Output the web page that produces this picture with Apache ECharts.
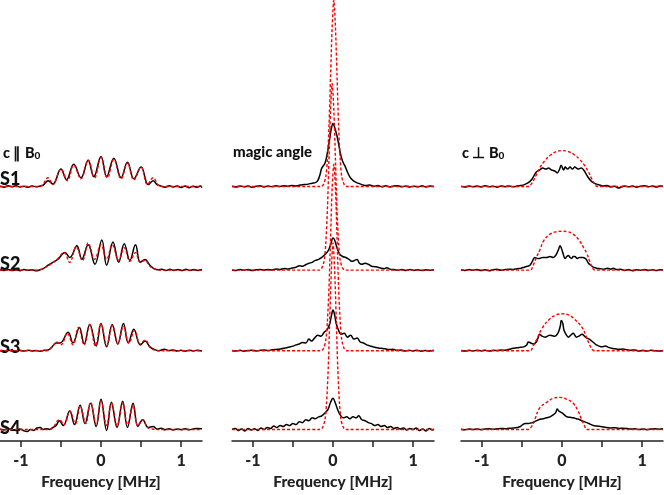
<!DOCTYPE html>
<html><head><meta charset="utf-8">
<script src="https://cdn.jsdelivr.net/npm/echarts@6/dist/echarts.min.js"></script>
<style>html,body{margin:0;padding:0;background:#fff}#c{width:664px;height:495px}</style>
</head><body><div id="c"></div>
<script>
// ---- tick marks / labels ----
const xTicks = [-1, -0.5, 0, 0.5, 1];
const xLabels = [-1, 0, 1];
const sampleNames = ['S1', 'S2', 'S3', 'S4'];
// vertical offset (stacking) of each sample's baseline, in intensity units
const baselineOffsets = [262, 176, 93, 12];

// ---- Panel 1: c || B0 ----  [frequency MHz, intensity]
const p1s1Exp = [[-1.26,0.3],[-1.21,-0.6],[-1.16,0.7],[-1.11,-0.2],[-1.06,0.8],[-1.01,-0.5],[-0.96,0.4],[-0.91,-0.7],[-0.86,0.6],[-0.81,-0.3],[-0.76,0.5],[-0.72,1.5],[-0.66,6],[-0.6,2.5],[-0.5,18],[-0.43,7],[-0.34,23],[-0.25,9],[-0.16,27],[-0.09,10],[0,31],[0.07,10],[0.16,29],[0.25,9],[0.33,25],[0.41,8],[0.5,20],[0.59,2],[0.65,6],[0.7,2],[0.75,0.4],[0.8,-0.6],[0.85,0.7],[0.9,-0.4],[0.95,0.5],[1.0,-0.9],[1.05,0.6],[1.1,-1.2],[1.15,0.4],[1.2,-0.8],[1.24,0.5],[1.26,-1]];
const p1s1Sim = [[-1.26,0],[-0.8,0],[-0.74,1],[-0.66,9],[-0.6,2],[-0.5,18],[-0.42,6],[-0.34,22],[-0.25,8],[-0.16,27],[-0.08,9],[0,30],[0.08,9],[0.16,28],[0.25,8],[0.33,24],[0.41,7],[0.5,20],[0.58,2],[0.65,9],[0.72,1],[0.78,0],[1.26,0]];
const p1s2Exp = [[-1.26,0.4],[-1.21,-0.3],[-1.16,0.6],[-1.11,-0.5],[-1.06,0.3],[-1.01,-0.6],[-0.96,0.5],[-0.91,-0.2],[-0.86,0.4],[-0.81,-0.7],[-0.76,0.3],[-0.72,1.5],[-0.66,5],[-0.6,8],[-0.54,11],[-0.45,18],[-0.39,13],[-0.3,25],[-0.24,11],[-0.16,26],[-0.075,6],[0.01,31],[0.07,5],[0.15,29],[0.22,8],[0.29,27],[0.36,10],[0.43,26],[0.49,8],[0.55,11],[0.61,5],[0.66,1.5],[0.71,0.3],[0.76,1],[0.81,-0.4],[0.86,0.8],[0.91,-0.3],[0.96,0.6],[1.01,-0.5],[1.06,1],[1.11,-0.4],[1.16,0.5],[1.21,-0.3],[1.26,0.6]];
const p1s2Sim = [[-1.26,0],[-0.8,0],[-0.72,1.5],[-0.63,6],[-0.55,11],[-0.46,18],[-0.39,8],[-0.31,24],[-0.23,10],[-0.16,28],[-0.08,11],[0,26],[0.07,11],[0.14,26],[0.22,10],[0.29,23],[0.36,9],[0.43,18],[0.49,8],[0.55,10],[0.61,4],[0.68,1],[0.75,0],[1.26,0]];
const p1s3Exp = [[-1.26,0.3],[-1.21,-0.4],[-1.16,0.5],[-1.11,0],[-1.06,-0.6],[-1.01,0.4],[-0.96,-0.3],[-0.91,0.6],[-0.86,-0.2],[-0.81,0.3],[-0.76,-0.5],[-0.71,0.4],[-0.66,0.8],[-0.61,4],[-0.56,8],[-0.51,8],[-0.41,19],[-0.35,8],[-0.27,24],[-0.21,7],[-0.14,27],[-0.06,5],[0,28],[0.07,4],[0.14,27],[0.21,7],[0.28,28],[0.34,8],[0.41,22],[0.49,6],[0.55,10],[0.61,4],[0.66,1.5],[0.72,0],[0.79,1.5],[0.85,0.2],[0.9,0.7],[0.95,-0.3],[1.0,0.5],[1.05,-0.4],[1.1,0.6],[1.15,-0.2],[1.2,0.4],[1.26,-0.3]];
const p1s3Sim = [[-1.26,0],[-0.7,0],[-0.64,1.5],[-0.59,6],[-0.55,9],[-0.5,6],[-0.42,18],[-0.35,6],[-0.28,24],[-0.21,6],[-0.14,27],[-0.07,5],[0,28],[0.07,5],[0.14,26],[0.21,7],[0.28,25],[0.35,8],[0.42,21],[0.49,7],[0.55,11],[0.62,3],[0.68,0.5],[0.74,0],[1.26,0]];
const p1s4Exp = [[-1.26,0.5],[-1.21,-0.5],[-1.16,0.8],[-1.11,0],[-1.06,-1],[-1.01,0.5],[-0.96,-1.5],[-0.92,-2],[-0.88,0],[-0.84,-1],[-0.8,1.5],[-0.76,2],[-0.72,0],[-0.68,0.8],[-0.64,0],[-0.6,2],[-0.56,4],[-0.52,9],[-0.47,4],[-0.39,19],[-0.33,5],[-0.26,25],[-0.2,6],[-0.13,27],[-0.06,3],[0,31],[0.07,-1],[0.13,28],[0.2,2],[0.27,29],[0.33,2],[0.4,27],[0.46,3],[0.52,10],[0.59,2],[0.65,3],[0.7,0.5],[0.75,1.2],[0.8,-0.3],[0.85,0.6],[0.9,-0.5],[0.95,0.4],[1.0,-0.2],[1.05,0.7],[1.1,-0.4],[1.15,0.5],[1.2,1],[1.26,0.6]];
const p1s4Sim = [[-1.26,0],[-0.66,0],[-0.6,2],[-0.52,10],[-0.46,5],[-0.39,19],[-0.32,6],[-0.26,24],[-0.19,6],[-0.13,28],[-0.06,5],[0,29],[0.07,4],[0.13,27],[0.2,4],[0.27,27],[0.33,5],[0.4,24],[0.46,4],[0.52,10],[0.58,2],[0.64,0.5],[0.7,0],[1.26,0]];

// ---- Panel 2: magic angle ----
const p2s1Exp = [[-1.26,0.3],[-1.21,-0.5],[-1.16,0.6],[-1.11,-0.3],[-1.06,0.5],[-1.01,-0.7],[-0.96,0.2],[-0.91,0.8],[-0.86,-0.4],[-0.81,0.5],[-0.76,-0.2],[-0.71,0.7],[-0.66,0.1],[-0.61,0.9],[-0.56,0.3],[-0.51,1.2],[-0.46,0.6],[-0.41,1.5],[-0.36,2],[-0.31,2.5],[-0.26,3.5],[-0.22,4],[-0.19,6],[-0.16,13],[-0.14,19],[-0.1,24],[-0.07,35],[-0.04,50],[-0.02,60],[0,65],[0.02,61],[0.05,52],[0.07,44],[0.09,35],[0.12,26],[0.15,21],[0.18,15],[0.21,10],[0.24,7],[0.27,5],[0.31,3.5],[0.36,2],[0.41,1],[0.46,1.5],[0.51,0.4],[0.56,1],[0.61,-0.3],[0.66,0.8],[0.71,-0.4],[0.76,0.5],[0.81,0.9],[0.86,-0.2],[0.91,0.6],[0.96,-0.5],[1.01,0.4],[1.06,-0.3],[1.11,0.7],[1.16,-0.4],[1.21,0.5],[1.26,0]];
const p2s1Sim = [[-1.26,0],[-0.15,0],[-0.12,2],[-0.09,10],[-0.07,28],[-0.05,62],[-0.03,115],[-0.01,165],[0.01,192],[0.03,165],[0.05,115],[0.07,62],[0.09,28],[0.11,10],[0.14,2],[0.17,0],[1.26,0]];
const p2s2Exp = [[-1.26,0.2],[-1.21,-0.4],[-1.16,0.5],[-1.11,-0.2],[-1.06,0.6],[-1.01,-0.5],[-0.96,0.3],[-0.91,0.7],[-0.86,0],[-0.81,0.6],[-0.76,0.2],[-0.71,1.1],[-0.66,0.6],[-0.61,1.6],[-0.56,1.2],[-0.51,2.2],[-0.46,3],[-0.42,4.5],[-0.38,4],[-0.34,5.5],[-0.3,7],[-0.26,8],[-0.22,10],[-0.18,11],[-0.14,13],[-0.1,16],[-0.06,20],[-0.03,26],[0,33],[0.02,31],[0.05,23],[0.08,17],[0.12,14],[0.16,13],[0.2,11],[0.24,9],[0.27,10],[0.3,11],[0.33,7],[0.36,6],[0.4,7],[0.44,6],[0.48,4],[0.52,3.5],[0.56,3],[0.6,2],[0.64,1.5],[0.67,2.5],[0.71,1],[0.76,0.5],[0.81,-0.2],[0.86,0.6],[0.91,-0.4],[0.96,0.5],[1.01,-0.3],[1.06,0.4],[1.11,-0.5],[1.16,0.3],[1.21,-0.2],[1.26,0.4]];
const p2s2Sim = [[-1.26,0],[-0.17,0],[-0.14,2],[-0.11,10],[-0.09,28],[-0.07,62],[-0.05,115],[-0.03,165],[-0.01,192],[0.01,165],[0.03,115],[0.05,62],[0.07,28],[0.09,10],[0.12,2],[0.15,0],[1.26,0]];
const p2s3Exp = [[-1.26,0.3],[-1.21,-0.3],[-1.16,0.5],[-1.11,-0.4],[-1.06,0.2],[-1.01,0.6],[-0.96,-0.2],[-0.91,0.4],[-0.86,0.8],[-0.81,0.3],[-0.76,1],[-0.71,1.4],[-0.66,1.8],[-0.61,2.5],[-0.56,3.5],[-0.51,4.5],[-0.46,6],[-0.42,7],[-0.38,8.5],[-0.34,8],[-0.3,12],[-0.27,10],[-0.23,13],[-0.19,16],[-0.15,15],[-0.11,19],[-0.07,22],[-0.04,28],[-0.02,36],[0,42],[0.02,37],[0.04,28],[0.07,21],[0.1,17],[0.14,18],[0.18,14],[0.22,16],[0.26,12],[0.3,13],[0.34,9],[0.38,8],[0.42,6],[0.46,5],[0.5,4],[0.55,3],[0.6,2.5],[0.65,2],[0.7,1.2],[0.75,1.5],[0.8,0.4],[0.85,0.8],[0.9,-0.3],[0.95,0.5],[1.0,-0.2],[1.05,0.6],[1.1,-0.4],[1.15,0.3],[1.2,-0.3],[1.26,0.4]];
const p2s3Sim = [[-1.26,0],[-0.15,0],[-0.12,2],[-0.09,11],[-0.07,30],[-0.05,65],[-0.03,118],[-0.01,168],[0.01,192],[0.03,168],[0.05,118],[0.07,65],[0.09,30],[0.11,11],[0.14,2],[0.17,0],[1.26,0]];
const p2s4Exp = [[-1.26,0],[-1.22,1],[-1.18,-1],[-1.14,0.5],[-1.1,-1.5],[-1.06,1],[-1.02,-0.5],[-0.98,0.8],[-0.94,-1],[-0.9,1.5],[-0.86,0],[-0.82,2],[-0.78,1],[-0.74,3.5],[-0.7,2],[-0.66,4],[-0.62,3],[-0.58,5],[-0.54,4],[-0.5,6],[-0.46,5],[-0.42,8],[-0.38,7],[-0.34,10],[-0.3,9],[-0.26,12],[-0.22,11],[-0.18,13],[-0.14,14],[-0.1,17],[-0.06,21],[-0.03,28],[0,32],[0.03,27],[0.06,20],[0.09,15],[0.13,12],[0.17,13],[0.21,11],[0.25,13],[0.29,12],[0.32,14],[0.36,10],[0.4,9],[0.44,7],[0.48,6],[0.52,4],[0.56,5],[0.6,3],[0.64,4],[0.68,2],[0.72,3],[0.76,1],[0.8,2],[0.84,0.5],[0.88,1.5],[0.92,-0.5],[0.96,1],[1,0],[1.04,1.5],[1.08,-1],[1.12,0.5],[1.16,-1.5],[1.2,1],[1.24,-0.5],[1.26,0.5]];
const p2s4Sim = [[-1.26,0],[-0.16,0],[-0.13,2],[-0.1,10],[-0.08,28],[-0.06,62],[-0.04,115],[-0.02,165],[0,192],[0.02,165],[0.04,115],[0.06,62],[0.08,28],[0.1,10],[0.13,2],[0.16,0],[1.26,0]];

// ---- Panel 3: c ⊥ B0 ----
const p3s1Exp = [[-1.26,0.2],[-1.21,-0.5],[-1.16,0.6],[-1.11,-0.3],[-1.06,0.5],[-1.01,-0.4],[-0.96,0.7],[-0.91,-0.2],[-0.86,0.4],[-0.81,-0.6],[-0.76,0.5],[-0.71,-0.1],[-0.66,0.6],[-0.61,-0.3],[-0.56,0.5],[-0.52,1],[-0.47,2],[-0.42,4],[-0.38,7],[-0.35,11],[-0.32,15],[-0.28,17],[-0.24,19],[-0.2,18],[-0.17,19],[-0.13,17],[-0.09,16],[-0.06,14],[-0.03,18],[-0.01,22],[0.02,17],[0.04,20],[0.07,18],[0.1,20],[0.13,18],[0.16,20],[0.2,18],[0.24,19],[0.27,17],[0.3,13],[0.33,9],[0.36,6],[0.39,4],[0.43,2.5],[0.47,1.5],[0.51,0.5],[0.56,1],[0.61,-0.4],[0.66,0.3],[0.7,-1.5],[0.74,-0.5],[0.78,0.6],[0.83,-0.3],[0.88,0.5],[0.93,-0.6],[0.98,0.4],[1.03,0.8],[1.08,-0.2],[1.13,0.6],[1.18,-0.4],[1.22,0.5],[1.26,0.2]];
const p3s1Sim = [[-1.26,0],[-0.42,0],[-0.38,3],[-0.35,7],[-0.32,12],[-0.28,19],[-0.22,26],[-0.15,32],[-0.07,36],[0,37],[0.08,36],[0.15,33],[0.22,28],[0.28,22],[0.33,15],[0.37,8],[0.41,2],[0.44,0],[1.26,0]];
const p3s2Exp = [[-1.26,0.3],[-1.21,-0.4],[-1.16,0.5],[-1.11,-0.2],[-1.06,0.6],[-1.01,-0.5],[-0.96,0.3],[-0.91,-0.6],[-0.86,0.4],[-0.81,0.8],[-0.76,-0.2],[-0.71,0.5],[-0.66,1],[-0.61,0.6],[-0.56,1.5],[-0.51,2],[-0.47,3],[-0.43,4],[-0.4,5],[-0.37,9],[-0.34,13],[-0.31,12],[-0.28,12],[-0.24,13],[-0.19,13],[-0.15,14],[-0.11,13],[-0.08,15],[-0.06,18],[-0.04,22],[-0.025,25],[-0.01,23],[0.01,18],[0.04,12],[0.06,14],[0.08,15],[0.1,13],[0.12,12],[0.14,14],[0.16,14],[0.19,12],[0.22,13],[0.26,13],[0.29,12],[0.31,10],[0.33,7],[0.36,5],[0.39,3],[0.43,2],[0.48,1.5],[0.52,1],[0.57,1.8],[0.61,1],[0.64,2],[0.68,0.5],[0.73,1],[0.78,-0.3],[0.83,0.5],[0.88,-0.6],[0.93,0.4],[0.98,-0.2],[1.03,0.6],[1.08,-0.4],[1.13,0.3],[1.18,-0.5],[1.22,0.4],[1.26,0]];
const p3s2Sim = [[-1.26,0],[-0.4,0],[-0.36,5],[-0.32,13],[-0.27,22],[-0.23,30],[-0.15,37],[-0.07,39.5],[0,40],[0.07,39.5],[0.14,37],[0.22,30],[0.27,23],[0.31,17],[0.35,8],[0.39,1],[0.42,0],[1.26,0]];
const p3s3Exp = [[-1.26,0.2],[-1.21,-0.3],[-1.16,0.4],[-1.11,-0.2],[-1.06,0.5],[-1.01,0],[-0.96,0.6],[-0.91,-0.3],[-0.86,0.4],[-0.81,0.2],[-0.76,0.7],[-0.71,0.5],[-0.66,1.5],[-0.61,2.5],[-0.56,3],[-0.52,3.5],[-0.48,4],[-0.44,6],[-0.42,9],[-0.39,8],[-0.36,7],[-0.32,9],[-0.3,13],[-0.28,17],[-0.25,15],[-0.21,14],[-0.18,15],[-0.15,16],[-0.12,15.5],[-0.09,15],[-0.06,17],[-0.04,20],[-0.02,26],[-0.01,31],[0.01,28],[0.025,21],[0.05,17],[0.08,14],[0.11,16],[0.14,18],[0.16,16],[0.18,14],[0.21,15],[0.25,17],[0.28,15],[0.31,13],[0.34,12],[0.37,10],[0.4,8],[0.43,6],[0.47,4.5],[0.5,4],[0.54,5],[0.58,3.5],[0.62,2.5],[0.66,2],[0.71,1.5],[0.76,1.8],[0.81,1],[0.86,0.5],[0.91,0.8],[0.96,-0.2],[1.01,0.4],[1.06,-0.3],[1.11,0.5],[1.16,0],[1.21,-0.3],[1.26,0.3]];
const p3s3Sim = [[-1.26,0],[-0.4,0],[-0.36,5],[-0.32,11],[-0.25,23],[-0.15,33],[-0.07,37],[0,38],[0.08,37],[0.15,33],[0.25,24],[0.3,15],[0.34,7],[0.38,1],[0.41,0],[1.26,0]];
const p3s4Exp = [[-1.26,0.3],[-1.21,-0.3],[-1.16,0.5],[-1.11,0],[-1.06,0.4],[-1.01,-0.2],[-0.96,0.5],[-0.91,0.8],[-0.86,0.2],[-0.81,0.6],[-0.76,1],[-0.71,0.7],[-0.66,1.2],[-0.61,1.5],[-0.56,2],[-0.52,3],[-0.49,5],[-0.46,6],[-0.43,6],[-0.4,6.5],[-0.37,7],[-0.33,8.5],[-0.29,10],[-0.24,11],[-0.19,12],[-0.15,13],[-0.11,15],[-0.08,17],[-0.06,21],[-0.04,19],[-0.02,18],[0,17],[0.03,15],[0.06,13],[0.1,12.5],[0.14,12],[0.18,11],[0.22,10],[0.26,8.5],[0.31,7],[0.35,5.5],[0.39,4],[0.44,3.5],[0.48,3],[0.52,2.5],[0.56,2],[0.61,1.5],[0.66,1.8],[0.71,1],[0.76,1.3],[0.81,1],[0.86,0.4],[0.91,0.7],[0.96,0],[1.01,0.5],[1.06,-0.2],[1.11,0.4],[1.16,0.8],[1.21,0.3],[1.26,0.6]];
const p3s4Sim = [[-1.26,0],[-0.42,0],[-0.38,3],[-0.34,10],[-0.28,22],[-0.19,28],[-0.11,32],[-0.03,33],[0.06,31],[0.14,27],[0.2,19],[0.24,11],[0.28,4],[0.31,0],[1.26,0]];

const expData = [[p1s1Exp,p1s2Exp,p1s3Exp,p1s4Exp],[p2s1Exp,p2s2Exp,p2s3Exp,p2s4Exp],[p3s1Exp,p3s2Exp,p3s3Exp,p3s4Exp]];
const simData = [[p1s1Sim,p1s2Sim,p1s3Sim,p1s4Sim],[p2s1Sim,p2s2Sim,p2s3Sim,p2s4Sim],[p3s1Sim,p3s2Sim,p3s3Sim,p3s4Sim]];

const FONT = 'Lato';
const W = 900;
const lefts = [0, 232, 461];
const grids = lefts.map(l => ({left: l, width: 202, top: 0, bottom: 41}));
const xAxes = lefts.map((l, i) => ({
  type: 'value', gridIndex: i, min: -1.26, max: 1.26,
  axisLine: {show: true, onZero: false, lineStyle: {color: '#222', width: 1.5}},
  axisTick: {show: true, customValues: xTicks, length: 6, lineStyle: {color: '#222', width: 1.5}},
  axisLabel: {customValues: xLabels, margin: 12, fontFamily: FONT, fontWeight: W, fontSize: 16, color: '#222'},
  splitLine: {show: false},
  name: 'Frequency [MHz]', nameLocation: 'middle', nameGap: 29,
  nameTextStyle: {fontFamily: FONT, fontWeight: W, fontSize: 15.5, color: '#222'}
}));
const yAxes = lefts.map((l, i) => ({type: 'value', gridIndex: i, min: 0, max: 454, show: false}));

const series = [];
for (let p = 0; p < 3; p++) {
  for (let i = 0; i < 4; i++) {
    series.push({type: 'line', xAxisIndex: p, yAxisIndex: p, symbol: 'none', silent: true,
      smooth: 0.4, data: expData[p][i].map(d => [d[0], d[1] + baselineOffsets[i]]),
      lineStyle: {color: '#000', width: 1.5}, z: 2});
    series.push({type: 'line', xAxisIndex: p, yAxisIndex: p, symbol: 'none', silent: true,
      smooth: p === 1 ? 0.3 : 0.4, data: simData[p][i].map(d => [d[0], d[1] + baselineOffsets[i]]),
      lineStyle: {color: '#ff0000', width: 1.4, type: [3, 2]}, z: 3});
  }
}

const labelYs = [179, 264, 347, 428];
const titleRich = {
  m: {fontFamily: FONT, fontWeight: W, fontSize: 14.5, lineHeight: 16, fill: '#111'},
  s: {fontFamily: FONT, fontWeight: W, fontSize: 10, lineHeight: 6, verticalAlign: 'bottom', fill: '#111'}
};
const graphic = [
  {type: 'text', x: 3, y: 153, style: {text: '{m|c ∥ B}{s|0}', rich: titleRich, verticalAlign: 'middle'}},
  {type: 'text', x: 233, y: 152, style: {text: 'magic angle', fontFamily: FONT, fontWeight: W, fontSize: 15, fill: '#111', verticalAlign: 'middle'}},
  {type: 'text', x: 462, y: 153, style: {text: '{m|c ⊥ B}{s|0}', rich: titleRich, verticalAlign: 'middle'}}
].concat(sampleNames.map((n, i) => ({type: 'text', x: 0, y: labelYs[i],
  style: {text: n, fontFamily: FONT, fontWeight: W, fontSize: 18, fill: '#111', verticalAlign: 'middle'}})));

const chart = echarts.init(document.getElementById('c'), null, {renderer: 'canvas'});
chart.setOption({animation: false, backgroundColor: '#fff', grid: grids, xAxis: xAxes, yAxis: yAxes, series, graphic});
</script>
</body></html>
